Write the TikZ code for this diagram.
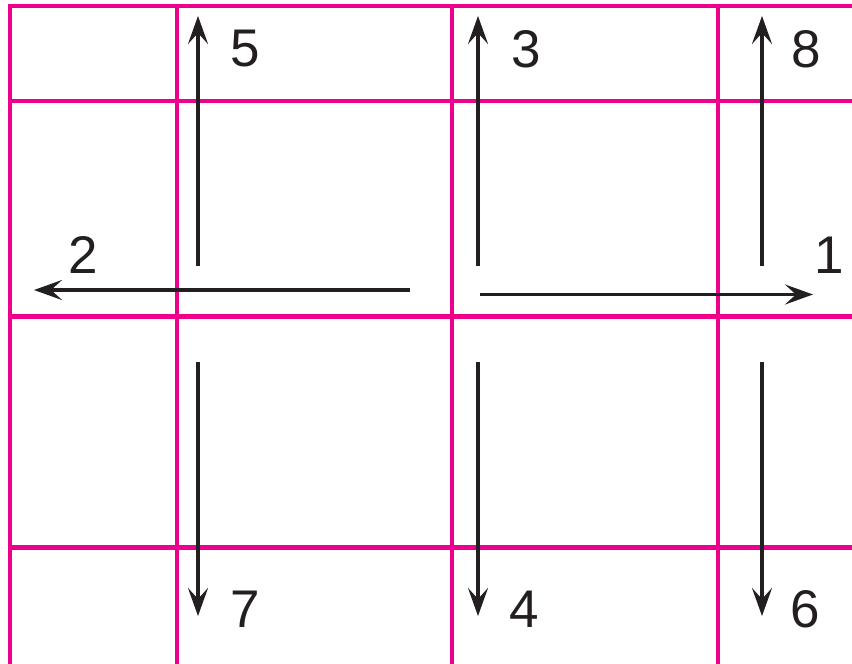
\documentclass[tikz,border=0pt]{standalone}
\usepackage{fontspec}
\setmainfont{Liberation Sans}
\usetikzlibrary{arrows.meta}
\definecolor{gmag}{RGB}{236,0,140}
\definecolor{gink}{RGB}{35,31,32}
\tikzset{
  grid/.style  ={draw=gmag, line width=4.6pt},
  mv/.style    ={-{Stealth[length=28pt, width=20pt, inset=11pt]}, draw=gink, line width=3.6pt},
  num/.style   ={inner sep=0pt, text=gink, font=\fontsize{53}{53}\selectfont}
}

\begin{document}
\begin{tikzpicture}[x=1pt, y=-1pt]
\useasboundingbox (0,0) rectangle (852,664);

% grid
\foreach \gx in {10,177,452,718}
  \draw[grid] (\gx,3.7) -- (\gx,664);
\foreach \gy in {6,101,316.5,547.5}
  \draw[grid] (7.7,\gy) -- (852,\gy);

% free ends of the moves
\coordinate (uaS) at (198,266);  \coordinate (uaE) at (198,16);
\coordinate (ubS) at (478,266);  \coordinate (ubE) at (478,16);
\coordinate (ucS) at (762,266);  \coordinate (ucE) at (762,16);
\coordinate (daS) at (198,362);  \coordinate (daE) at (198,616);
\coordinate (dbS) at (478,362);  \coordinate (dbE) at (478,616);
\coordinate (dcS) at (762,362);  \coordinate (dcE) at (762,616);
\coordinate (lS)  at (410,290);  \coordinate (lE)  at (34,290);
\coordinate (rS)  at (480,294.5);\coordinate (rE)  at (813,294.5);

\draw[mv] (uaS) -- (uaE);
\draw[mv] (ubS) -- (ubE);
\draw[mv] (ucS) -- (ucE);
\draw[mv] (daS) -- (daE);
\draw[mv] (dbS) -- (dbE);
\draw[mv] (dcS) -- (dcE);
\draw[mv] (lS) -- (lE);
\draw[mv] (rS) -- (rE);

% move numbers
\node[num] (n5) at (245,49)  {5};
\node[num] (n3) at (526,49)  {3};
\node[num] (n8) at (806,49)  {8};
\node[num] (n2) at (83,255)  {2};
\node[num] (n1) at (829,255) {1};
\node[num] (n7) at (245,609) {7};
\node[num] (n4) at (524,609) {4};
\node[num] (n6) at (805,609) {6};
\end{tikzpicture}
\end{document}
